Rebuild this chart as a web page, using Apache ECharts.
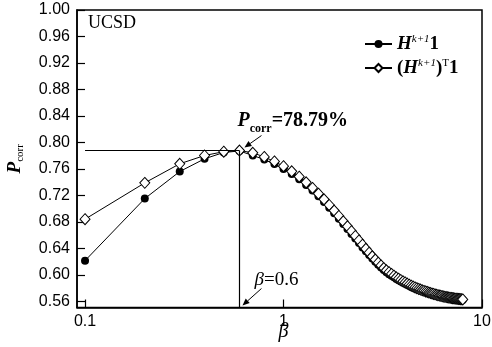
<!DOCTYPE html>
<html>
<head>
<meta charset="utf-8">
<script src="https://cdn.jsdelivr.net/npm/echarts@6/dist/echarts.min.js"></script>
<style>
  html, body { margin: 0; padding: 0; background: #fff; }
  #chart { width: 492px; height: 347px; }
</style>
</head>
<body>
<div id="chart"></div>
<script>
// beta values, 0.1 .. 8.0
const BETA = [
  0.1, 0.2, 0.3, 0.4, 0.5, 0.6, 0.7, 0.8, 0.9, 1.0,
  1.1, 1.2, 1.3, 1.4, 1.5, 1.6, 1.7, 1.8, 1.9, 2.0,
  2.1, 2.2, 2.3, 2.4, 2.5, 2.6, 2.7, 2.8, 2.9, 3.0,
  3.1, 3.2, 3.3, 3.4, 3.5, 3.6, 3.7, 3.8, 3.9, 4.0,
  4.1, 4.2, 4.3, 4.4, 4.5, 4.6, 4.7, 4.8, 4.9, 5.0,
  5.1, 5.2, 5.3, 5.4, 5.5, 5.6, 5.7, 5.8, 5.9, 6.0,
  6.1, 6.2, 6.3, 6.4, 6.5, 6.6, 6.7, 6.8, 6.9, 7.0,
  7.1, 7.2, 7.3, 7.4, 7.5, 7.6, 7.7, 7.8, 7.9, 8.0
];

// P_corr for H^{k+1}1
const P_ROW = [
  0.6217, 0.7154, 0.7562, 0.7754, 0.7850, 0.7872, 0.7805, 0.7742, 0.7674, 0.7602,
  0.7525, 0.7444, 0.7360, 0.7274, 0.7188, 0.7102, 0.7017, 0.6933, 0.6851, 0.6771,
  0.6695, 0.6621, 0.6550, 0.6482, 0.6417, 0.6360, 0.6303, 0.6250, 0.6201, 0.6156,
  0.6115, 0.6077, 0.6042, 0.6012, 0.5991, 0.5966, 0.5942, 0.5921, 0.5903, 0.5885,
  0.5868, 0.5852, 0.5837, 0.5823, 0.5810, 0.5797, 0.5786, 0.5775, 0.5766, 0.5756,
  0.5748, 0.5740, 0.5732, 0.5725, 0.5717, 0.5710, 0.5704, 0.5698, 0.5692, 0.5687,
  0.5682, 0.5677, 0.5673, 0.5668, 0.5664, 0.5660, 0.5656, 0.5653, 0.5650, 0.5647,
  0.5644, 0.5641, 0.5638, 0.5636, 0.5634, 0.5632, 0.5630, 0.5628, 0.5626, 0.5624
];

// P_corr for (H^{k+1})^T 1
const P_COL = [
  0.6843, 0.7391, 0.7679, 0.7804, 0.7862, 0.7879, 0.7845, 0.7782, 0.7714, 0.7642,
  0.7565, 0.7484, 0.7400, 0.7314, 0.7228, 0.7142, 0.7057, 0.6973, 0.6891, 0.6811,
  0.6735, 0.6661, 0.6590, 0.6522, 0.6457, 0.6395, 0.6337, 0.6283, 0.6233, 0.6187,
  0.6145, 0.6106, 0.6072, 0.6043, 0.6017, 0.5991, 0.5966, 0.5944, 0.5925, 0.5906,
  0.5888, 0.5871, 0.5855, 0.5840, 0.5826, 0.5813, 0.5801, 0.5790, 0.5780, 0.5770,
  0.5761, 0.5752, 0.5744, 0.5736, 0.5728, 0.5721, 0.5714, 0.5708, 0.5702, 0.5696,
  0.5691, 0.5686, 0.5681, 0.5676, 0.5672, 0.5668, 0.5664, 0.5660, 0.5657, 0.5654,
  0.5651, 0.5648, 0.5645, 0.5643, 0.5641, 0.5639, 0.5637, 0.5635, 0.5633, 0.5631
];

const X_TICKS = [0.1, 1, 10];
const X_TICK_LABELS = ['0.1', '1', '10'];
const Y_TICKS = [0.56, 0.60, 0.64, 0.68, 0.72, 0.76, 0.80, 0.84, 0.88, 0.92, 0.96, 1.00];

const BEST_BETA = 0.6;
const BEST_P = 0.7879;

const SANS = '"Liberation Sans", Arial, sans-serif';
const SERIF = '"Liberation Serif", "Times New Roman", serif';

const chart = echarts.init(document.getElementById('chart'), null, { renderer: 'canvas' });

const pairs = (ys) => BETA.map((b, i) => [b, ys[i]]);

const legendRich = {
  i: { fontFamily: SERIF, fontStyle: 'italic', fontWeight: 'bold', fontSize: 19, color: '#000', lineHeight: 20, verticalAlign: 'bottom' },
  b: { fontFamily: SERIF, fontWeight: 'bold', fontSize: 19, color: '#000', lineHeight: 20, verticalAlign: 'bottom' },
  s: { fontFamily: SERIF, fontStyle: 'italic', fontSize: 11, color: '#000', lineHeight: 11, verticalAlign: 'top' },
  t: { fontFamily: SERIF, fontSize: 11, color: '#000', lineHeight: 11, verticalAlign: 'top' }
};

chart.setOption({
  animation: false,
  backgroundColor: '#fff',
  grid: {
    left: 77, right: 10, top: 10, bottom: 39.5,
    outerBoundsMode: 'none',
    containLabel: false,
    show: true, borderColor: '#000', borderWidth: 1.5
  },
  xAxis: {
    type: 'log',
    logBase: 10,
    min: 0.0911,
    max: 10,
    axisLine: { show: true, lineStyle: { color: '#000', width: 1.5 } },
    axisTick: { show: true, inside: true, length: 8, customValues: X_TICKS, lineStyle: { color: '#000', width: 1.2 } },
    axisLabel: {
      customValues: X_TICKS,
      margin: 6,
      fontFamily: SANS, fontSize: 16, color: '#000',
      formatter: (v) => {
        const k = X_TICKS.findIndex((t) => Math.abs(t - v) < 1e-9);
        return k >= 0 ? X_TICK_LABELS[k] : '';
      }
    },
    splitLine: { show: false },
    minorTick: { show: false }
  },
  yAxis: {
    type: 'value',
    min: 0.551,
    max: 1.0,
    axisLine: { show: true, lineStyle: { color: '#000', width: 1.5 } },
    axisTick: { show: true, inside: true, length: 8, customValues: Y_TICKS, lineStyle: { color: '#000', width: 1.2 } },
    axisLabel: {
      customValues: Y_TICKS,
      margin: 7,
      fontFamily: SANS, fontSize: 16, color: '#000',
      formatter: (v) => v.toFixed(2)
    },
    splitLine: { show: false },
    name: '{p|P}{c|corr}',
    nameLocation: 'middle',
    nameRotate: 90,
    nameGap: 51,
    nameTextStyle: {
      rich: {
        p: { fontFamily: SERIF, fontStyle: 'italic', fontWeight: 'bold', fontSize: 19, color: '#000', lineHeight: 20, verticalAlign: 'top' },
        c: { fontFamily: SERIF, fontSize: 11, color: '#000', lineHeight: 20, verticalAlign: 'bottom' }
      }
    }
  },
  legend: {
    left: 364,
    top: 34,
    padding: 0,
    orient: 'vertical',
    itemWidth: 27,
    itemHeight: 10,
    itemGap: 4,
    data: ['row', 'col'],
    formatter: (name) => name === 'row'
      ? '{i|H}{s|k+1}{b|1}'
      : '{b|(}{i|H}{s|k+1}{b|)}{t|T}{b|1}',
    textStyle: { rich: legendRich }
  },
  series: [
    {
      name: 'row',
      type: 'line',
      data: pairs(P_ROW),
      symbol: 'circle',
      symbolSize: 8,
      itemStyle: { color: '#000', borderColor: '#000', borderWidth: 0 },
      lineStyle: { color: '#000', width: 1 },
      z: 2,
      markLine: {
        silent: true,
        symbol: 'none',
        label: { show: false },
        lineStyle: { color: '#000', width: 1.2, type: 'solid' },
        data: [
          [{ coord: [0.1, BEST_P] }, { coord: [BEST_BETA, BEST_P] }],
          [{ coord: [BEST_BETA, BEST_P] }, { coord: [BEST_BETA, 0.551] }]
        ]
      }
    },
    {
      name: 'col',
      type: 'line',
      data: pairs(P_COL),
      symbol: 'diamond',
      symbolSize: [10, 11],
      itemStyle: { color: '#fff', borderColor: '#000', borderWidth: 1 },
      lineStyle: { color: '#000', width: 1 },
      z: 3
    }
  ]
});

// text annotations placed relative to the data they describe
function arrow(x1, y1, x2, y2) {
  const a = Math.atan2(y2 - y1, x2 - x1);
  const h = 7, w = 3;
  const bx = x2 - h * Math.cos(a), by = y2 - h * Math.sin(a);
  return [
    { type: 'line', shape: { x1, y1, x2: bx, y2: by }, style: { stroke: '#000', lineWidth: 1 }, silent: true },
    {
      type: 'polygon', silent: true,
      shape: { points: [[x2, y2], [bx - w * Math.sin(a), by + w * Math.cos(a)], [bx + w * Math.sin(a), by - w * Math.cos(a)]] },
      style: { fill: '#000' }
    }
  ];
}

const peak = chart.convertToPixel({ gridIndex: 0 }, [BEST_BETA, BEST_P]);
const foot = chart.convertToPixel({ gridIndex: 0 }, [BEST_BETA, 0.551]);
const xOne = chart.convertToPixel({ xAxisIndex: 0 }, 1);

chart.setOption({
  graphic: [
    {
      type: 'text', left: 88, top: 14,
      style: { text: 'UCSD', font: '18px ' + SERIF, fill: '#000' }
    },
    {
      type: 'text', x: peak[0] - 2, y: peak[1] - 40,
      style: {
        text: '{p|P}{c|corr}{v|=' + (BEST_P * 100).toFixed(2) + '%}',
        rich: {
          p: { fontFamily: SERIF, fontStyle: 'italic', fontWeight: 'bold', fontSize: 20, fill: '#000', lineHeight: 24, verticalAlign: 'top' },
          c: { fontFamily: SERIF, fontWeight: 'bold', fontSize: 12, fill: '#000', lineHeight: 24, verticalAlign: 'bottom' },
          v: { fontFamily: SERIF, fontWeight: 'bold', fontSize: 20, fill: '#000', lineHeight: 24, verticalAlign: 'top' }
        }
      }
    },
    ...arrow(peak[0] + 22, peak[1] - 15, peak[0] + 5, peak[1] - 3),
    {
      type: 'text', x: foot[0] + 15, y: foot[1] - 37,
      style: {
        text: '{b|\u03B2}{v|=' + BEST_BETA + '}',
        rich: {
          b: { fontFamily: SERIF, fontStyle: 'italic', fontSize: 19, fill: '#000' },
          v: { fontFamily: SERIF, fontSize: 19, fill: '#000' }
        }
      }
    },
    ...arrow(foot[0] + 22, foot[1] - 19, foot[0] + 3, foot[1] - 2),
    {
      type: 'text', x: xOne, y: 322,
      style: { text: '\u03B2', font: 'italic 20px ' + SERIF, fill: '#000', align: 'center' }
    }
  ]
});
</script>
</body>
</html>
